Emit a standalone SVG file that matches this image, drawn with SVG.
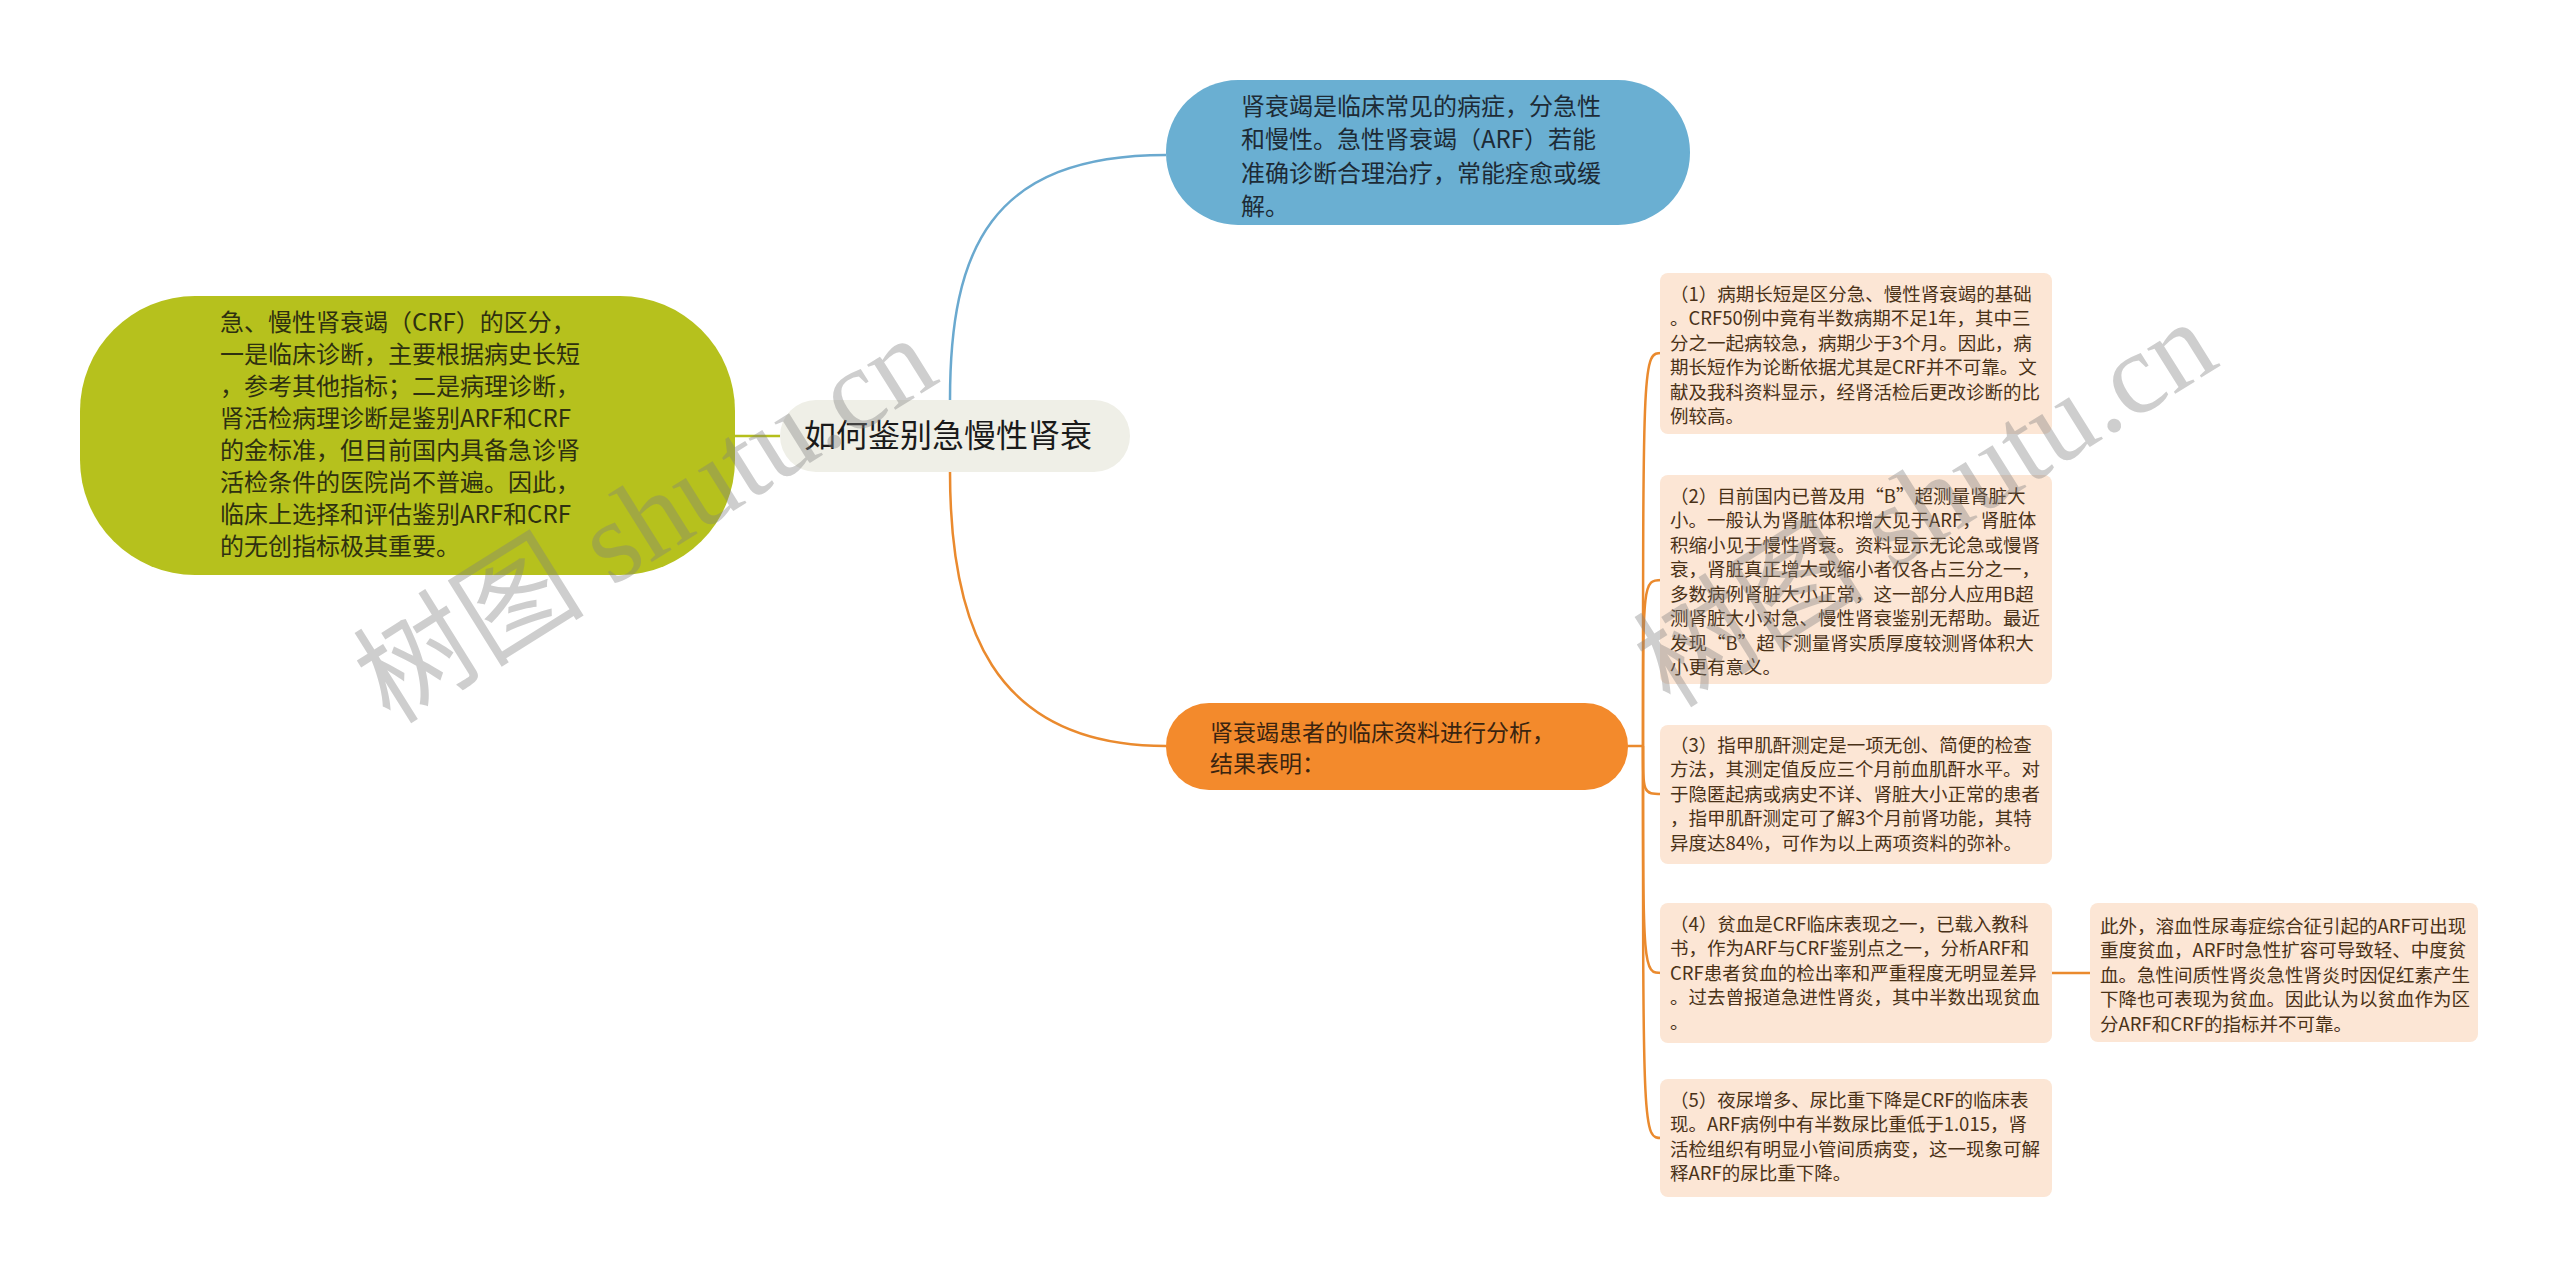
<svg xmlns="http://www.w3.org/2000/svg" width="2560" height="1277" viewBox="0 0 2560 1277">
<style>
  text { font-family: "Noto Sans CJK SC", "Noto Sans", sans-serif; }
  .main { font-size: 24px; }
  .root { font-size: 32px; fill: #1a1a1a; }
  .sub { font-size: 18.5px; fill: #4a3218; }
  .conn { fill: none; stroke-width: 2.5; }
  .orange { stroke: #ea8a2e; }
  .wm { font-family: "Liberation Serif", "Noto Sans CJK SC", serif; font-size: 116px; fill: #808080; opacity: 0.38; }
  .child { fill: #fce6d5; }
</style>
<rect width="2560" height="1277" fill="#ffffff"/>

<g id="connectors">
  <path class="conn" d="M 735 436 L 780 436" stroke="#b5bf1c"/>
  <path class="conn" d="M 950 400 C 950 250, 990 155, 1166 155" stroke="#6aa9cf"/>
  <path class="conn orange" d="M 950 472 C 950 622, 990 746, 1166 746"/>
  <path class="conn orange" d="M 1628 746 L 1643 746"/>
  <path class="conn orange" d="M 1643 746 C 1643 353, 1643 353, 1662 353"/>
  <path class="conn orange" d="M 1643 746 C 1643 580, 1643 580, 1662 580"/>
  <path class="conn orange" d="M 1643 746 C 1643 794, 1643 794, 1662 794"/>
  <path class="conn orange" d="M 1643 746 C 1643 973, 1643 973, 1662 973"/>
  <path class="conn orange" d="M 1643 746 C 1643 1138, 1643 1138, 1662 1138"/>
  <path class="conn orange" d="M 2052 973 L 2090 973"/>
</g>

<g id="node-root">
  <rect x="780" y="400" width="350" height="72" rx="36" fill="#efefe7"/>
  <text class="root" x="948" y="447" text-anchor="middle">如何鉴别急慢性肾衰</text>
</g>

<g id="node-left">
  <rect x="80" y="296" width="655" height="279" rx="115" fill="#b6c11d"/>
  <g class="main" fill="#2e3010">
    <text x="220" y="330.5">急、慢性肾衰竭（CRF）的区分，</text>
    <text x="220" y="362.5">一是临床诊断，主要根据病史长短</text>
    <text x="220" y="394.5">，参考其他指标；二是病理诊断，</text>
    <text x="220" y="426.5">肾活检病理诊断是鉴别ARF和CRF</text>
    <text x="220" y="458.5">的金标准，但目前国内具备急诊肾</text>
    <text x="220" y="490.5">活检条件的医院尚不普遍。因此，</text>
    <text x="220" y="522.5">临床上选择和评估鉴别ARF和CRF</text>
    <text x="220" y="554.5">的无创指标极其重要。</text>
  </g>
</g>

<g id="node-blue">
  <rect x="1166" y="80" width="524" height="145" rx="72" fill="#6aafd2"/>
  <g class="main" fill="#1d2b36">
    <text x="1241" y="114.5">肾衰竭是临床常见的病症，分急性</text>
    <text x="1241" y="148">和慢性。急性肾衰竭（ARF）若能</text>
    <text x="1241" y="181.5">准确诊断合理治疗，常能痊愈或缓</text>
    <text x="1241" y="215">解。</text>
  </g>
</g>

<g id="node-orange">
  <rect x="1166" y="703" width="462" height="87" rx="43" fill="#f38a2c"/>
  <g class="main" fill="#3a2410" style="font-size:23px">
    <text x="1210" y="741">肾衰竭患者的临床资料进行分析，</text>
    <text x="1210" y="772">结果表明：</text>
  </g>
</g>

<g id="node-c1">
  <rect class="child" x="1660" y="273" width="392" height="161" rx="8"/>
  <g class="sub">
    <text x="1670" y="300.5">（1）病期长短是区分急、慢性肾衰竭的基础</text>
    <text x="1670" y="325">。CRF50例中竟有半数病期不足1年，其中三</text>
    <text x="1670" y="349.5">分之一起病较急，病期少于3个月。因此，病</text>
    <text x="1670" y="374">期长短作为论断依据尤其是CRF并不可靠。文</text>
    <text x="1670" y="398.5">献及我科资料显示，经肾活检后更改诊断的比</text>
    <text x="1670" y="423">例较高。</text>
  </g>
</g>

<g id="node-c2">
  <rect class="child" x="1660" y="475" width="392" height="209" rx="8"/>
  <g class="sub">
    <text x="1670" y="502.5">（2）目前国内已普及用“B”超测量肾脏大</text>
    <text x="1670" y="527">小。一般认为肾脏体积增大见于ARF，肾脏体</text>
    <text x="1670" y="551.5">积缩小见于慢性肾衰。资料显示无论急或慢肾</text>
    <text x="1670" y="576">衰，肾脏真正增大或缩小者仅各占三分之一，</text>
    <text x="1670" y="600.5">多数病例肾脏大小正常，这一部分人应用B超</text>
    <text x="1670" y="625">测肾脏大小对急、慢性肾衰鉴别无帮助。最近</text>
    <text x="1670" y="649.5">发现“B”超下测量肾实质厚度较测肾体积大</text>
    <text x="1670" y="674">小更有意义。</text>
  </g>
</g>

<g id="node-c3">
  <rect class="child" x="1660" y="725" width="392" height="139" rx="8"/>
  <g class="sub">
    <text x="1670" y="751.5">（3）指甲肌酐测定是一项无创、简便的检查</text>
    <text x="1670" y="776">方法，其测定值反应三个月前血肌酐水平。对</text>
    <text x="1670" y="800.5">于隐匿起病或病史不详、肾脏大小正常的患者</text>
    <text x="1670" y="825">，指甲肌酐测定可了解3个月前肾功能，其特</text>
    <text x="1670" y="849.5">异度达84%，可作为以上两项资料的弥补。</text>
  </g>
</g>

<g id="node-c4">
  <rect class="child" x="1660" y="903" width="392" height="140" rx="8"/>
  <g class="sub">
    <text x="1670" y="930.5">（4）贫血是CRF临床表现之一，已载入教科</text>
    <text x="1670" y="955">书，作为ARF与CRF鉴别点之一，分析ARF和</text>
    <text x="1670" y="979.5">CRF患者贫血的检出率和严重程度无明显差异</text>
    <text x="1670" y="1004">。过去曾报道急进性肾炎，其中半数出现贫血</text>
    <text x="1670" y="1028.5">。</text>
  </g>
</g>

<g id="node-c4a">
  <rect class="child" x="2090" y="903" width="388" height="139" rx="8"/>
  <g class="sub">
    <text x="2100" y="932.5">此外，溶血性尿毒症综合征引起的ARF可出现</text>
    <text x="2100" y="957">重度贫血，ARF时急性扩容可导致轻、中度贫</text>
    <text x="2100" y="981.5">血。急性间质性肾炎急性肾炎时因促红素产生</text>
    <text x="2100" y="1006">下降也可表现为贫血。因此认为以贫血作为区</text>
    <text x="2100" y="1030.5">分ARF和CRF的指标并不可靠。</text>
  </g>
</g>

<g id="node-c5">
  <rect class="child" x="1660" y="1079" width="392" height="118" rx="8"/>
  <g class="sub">
    <text x="1670" y="1106.5">（5）夜尿增多、尿比重下降是CRF的临床表</text>
    <text x="1670" y="1131">现。ARF病例中有半数尿比重低于1.015，肾</text>
    <text x="1670" y="1155.5">活检组织有明显小管间质病变，这一现象可解</text>
    <text x="1670" y="1180">释ARF的尿比重下降。</text>
  </g>
</g>

<g id="watermarks">
  <text class="wm" x="645" y="519" text-anchor="middle" transform="rotate(-32 645 519)" dy="40">树图 shutu.cn</text>
  <text class="wm" x="1925" y="503" text-anchor="middle" transform="rotate(-32 1925 503)" dy="40">树图 shutu.cn</text>
</g>
</svg>
